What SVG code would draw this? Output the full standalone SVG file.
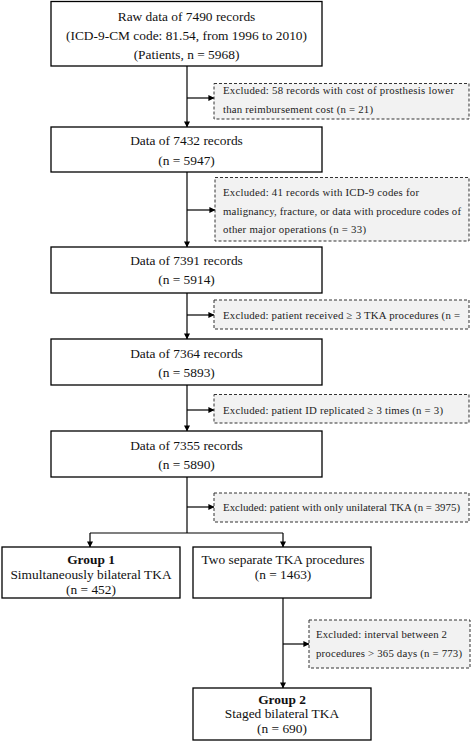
<svg xmlns="http://www.w3.org/2000/svg" width="472" height="742" viewBox="0 0 472 742">
<defs>
<marker id="arr" viewBox="0 0 8 8" refX="7.5" refY="4" markerWidth="6" markerHeight="6" markerUnits="userSpaceOnUse" orient="auto">
<path d="M0,0 L8,4 L0,8 Z" fill="#000"/>
</marker>
<style>
.box{fill:#fff;stroke:#000;stroke-width:1.3}
.ex{fill:#f2f2f2;stroke:#333;stroke-width:1;stroke-dasharray:3,2}
.t{font-family:"Liberation Serif","Times New Roman",serif;font-size:13.4px;fill:#111;text-anchor:middle}
.b{font-weight:bold}
.e{font-family:"Liberation Serif","Times New Roman",serif;font-size:10.8px;fill:#222}
.c{fill:none;stroke:#000;stroke-width:1.2}
</style>
</defs>
<rect width="472" height="742" fill="#fff"/>
<g id="connectors">
<path class="c" d="M187,66 V127" marker-end="url(#arr)"/>
<path class="c" d="M187,98 H214" marker-end="url(#arr)"/>
<path class="c" d="M187,172 V247" marker-end="url(#arr)"/>
<path class="c" d="M187,210 H215" marker-end="url(#arr)"/>
<path class="c" d="M187,293 V339" marker-end="url(#arr)"/>
<path class="c" d="M187,315 H214" marker-end="url(#arr)"/>
<path class="c" d="M187,385 V431" marker-end="url(#arr)"/>
<path class="c" d="M187,410 H214" marker-end="url(#arr)"/>
<path class="c" d="M187,477 V533"/>
<path class="c" d="M187,507 H214" marker-end="url(#arr)"/>
<path class="c" d="M90,533 H283"/>
<path class="c" d="M90,533 V547" marker-end="url(#arr)"/>
<path class="c" d="M283,533 V547" marker-end="url(#arr)"/>
<path class="c" d="M283,598 V688" marker-end="url(#arr)"/>
<path class="c" d="M283,644 H309" marker-end="url(#arr)"/>
</g>
<g id="raw">
<rect class="box" x="51" y="1.5" width="271" height="64.5"/>
<text class="t" x="186.5" y="20.5">Raw data of 7490 records</text>
<text class="t" x="186.5" y="39.5">(ICD-9-CM code: 81.54, from 1996 to 2010)</text>
<text class="t" x="186.5" y="58.5">(Patients, n = 5968)</text>
</g>
<g id="ex1">
<rect class="ex" x="214" y="83.5" width="255" height="35.5"/>
<text class="e" x="223" y="94" textLength="231" lengthAdjust="spacing">Excluded: 58 records with cost of prosthesis lower</text>
<text class="e" x="223" y="113" textLength="150" lengthAdjust="spacing">than reimbursement cost (n = 21)</text>
</g>
<g id="d7432">
<rect class="box" x="51" y="127" width="271" height="45"/>
<text class="t" x="186.5" y="145">Data of 7432 records</text>
<text class="t" x="186.5" y="165">(n = 5947)</text>
</g>
<g id="ex2">
<rect class="ex" x="215" y="177.5" width="254" height="63.5"/>
<text class="e" x="223" y="196" textLength="196" lengthAdjust="spacing">Excluded: 41 records with ICD-9 codes for</text>
<text class="e" x="223" y="214.5" textLength="238" lengthAdjust="spacing">malignancy, fracture, or data with procedure codes of</text>
<text class="e" x="223" y="233" textLength="143" lengthAdjust="spacing">other major operations (n = 33)</text>
</g>
<g id="d7391">
<rect class="box" x="51" y="247" width="271" height="46"/>
<text class="t" x="186.5" y="265">Data of 7391 records</text>
<text class="t" x="186.5" y="284">(n = 5914)</text>
</g>
<g id="ex3">
<rect class="ex" x="214" y="300" width="255" height="29"/>
<text class="e" x="223" y="318.5" textLength="237" lengthAdjust="spacing">Excluded: patient received ≥ 3 TKA procedures (n =</text>
</g>
<g id="d7364">
<rect class="box" x="51" y="339" width="271" height="46"/>
<text class="t" x="186.5" y="358">Data of 7364 records</text>
<text class="t" x="186.5" y="377">(n = 5893)</text>
</g>
<g id="ex4">
<rect class="ex" x="214" y="394.5" width="255" height="28.5"/>
<text class="e" x="223" y="413.5" textLength="220" lengthAdjust="spacing">Excluded: patient ID replicated ≥ 3 times (n = 3)</text>
</g>
<g id="d7355">
<rect class="box" x="51" y="431" width="271" height="46"/>
<text class="t" x="186.5" y="450">Data of 7355 records</text>
<text class="t" x="186.5" y="469">(n = 5890)</text>
</g>
<g id="ex5">
<rect class="ex" x="214" y="493" width="255" height="29"/>
<text class="e" x="223" y="510.5" textLength="237" lengthAdjust="spacing">Excluded: patient with only unilateral TKA (n = 3975)</text>
</g>
<g id="group1">
<rect class="box" x="2" y="547" width="178" height="51"/>
<text class="t b" x="91" y="564">Group 1</text>
<text class="t" x="91" y="579">Simultaneously bilateral TKA</text>
<text class="t" x="91" y="594">(n = 452)</text>
</g>
<g id="two">
<rect class="box" x="193" y="547" width="178" height="51"/>
<text class="t" x="283" y="564">Two separate TKA procedures</text>
<text class="t" x="283" y="579">(n = 1463)</text>
</g>
<g id="ex6">
<rect class="ex" x="309" y="620" width="161" height="48"/>
<text class="e" x="316" y="638" textLength="131" lengthAdjust="spacing">Excluded: interval between 2</text>
<text class="e" x="316" y="657" textLength="146" lengthAdjust="spacing">procedures &gt; 365 days (n = 773)</text>
</g>
<g id="group2">
<rect class="box" x="193" y="688" width="178" height="52"/>
<text class="t b" x="282" y="704">Group 2</text>
<text class="t" x="282" y="718">Staged bilateral TKA</text>
<text class="t" x="282" y="733">(n = 690)</text>
</g>
</svg>
